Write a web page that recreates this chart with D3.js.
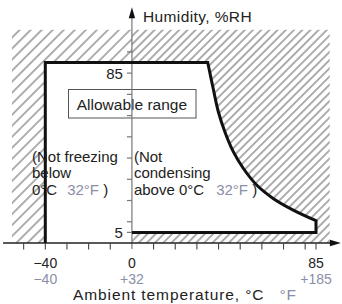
<!DOCTYPE html>
<html>
<head>
<meta charset="utf-8">
<script src="https://cdn.jsdelivr.net/npm/d3@7"></script>
<style>
  body { margin: 0; background: #fff; }
  svg { display: block; font-family: "Liberation Sans", Arial, Helvetica, sans-serif; }
</style>
</head>
<body>
<div id="chart"></div>
<script>
// temperature (°C) / humidity (%RH) values
const tempTicks = [-50, -40, -30, -20, -10, 0, 10, 20, 30, 40, 50, 60, 70, 80, 85];
const tempLabelsC = [-40, 0, 85];
const tempLabelsF = ["\u221240", "+32", "+185"];
const humTicks = [5, 10, 20, 30, 40, 50, 60, 70, 80, 90];
const humLabelValues = [5, 80];
const humLabelTexts = ["5", "85"];

const minTemp = -40;
const maxTemp = 85;
const upperHum = 85;
const lowerHum = 5;

// condensation limit curve
const curveTemp = [35, 37.5, 39.9, 42.9, 46.8, 51.4, 57.6, 65.2, 74.5, 85];
const curveHum = [85, 72.9, 61.8, 52.4, 43.0, 35.2, 27.3, 21.0, 15.5, 10.5];

// extents of the hatched area and of the axes
const hatchTemp = [-55.5, 91.4];
const hatchHumTop = 100.5;
const axisTemp = [-59.5, 96.5];
const axisHumTop = 111;

const width = 342, height = 304;
const grey = "#8a8ea6";
const ink = "#222";

const x = d3.scaleLinear().domain([-40, 85]).range([45.3, 316]);
const y = d3.scaleLinear().domain([0, 85]).range([243, 62.5]);

const svg = d3.select("#chart").append("svg")
    .attr("width", width)
    .attr("height", height);

const defs = svg.append("defs");

// two hatch densities (left of the humidity axis is sparser)
function hatchPattern(id, step) {
    const p = defs.append("pattern")
        .attr("id", id)
        .attr("patternUnits", "userSpaceOnUse")
        .attr("width", step)
        .attr("height", step)
        .attr("patternTransform", "rotate(45)");
    p.append("line")
        .attr("x1", step / 2).attr("y1", -1)
        .attr("x2", step / 2).attr("y2", step + 1)
        .attr("stroke", "#333")
        .attr("stroke-width", 0.8);
}
hatchPattern("hatchSparse", 7.8);
hatchPattern("hatchDense", 5.8);

// allowable region outline
const curvePts = curveTemp.map((t, i) => [x(t), y(curveHum[i])]);
const curveFwd = d3.line().curve(d3.curveCatmullRom.alpha(0.5))(curvePts);

const boundary = "M" + x(minTemp) + "," + y(0)
    + "L" + x(minTemp) + "," + y(upperHum)
    + "L" + curveFwd.slice(1)
    + "L" + x(maxTemp) + "," + y(lowerHum)
    + "L" + x(0) + "," + y(lowerHum);

const region = boundary + "L" + x(0) + "," + y(0) + "Z";

const outer = "M" + x(hatchTemp[0]) + "," + y(hatchHumTop)
    + "H" + x(hatchTemp[1])
    + "V" + y(0)
    + "H" + x(hatchTemp[0]) + "Z";

defs.append("clipPath").attr("id", "hatchClip")
    .append("path")
    .attr("d", outer + region)
    .attr("clip-rule", "evenodd");

const hatch = svg.append("g").attr("clip-path", "url(#hatchClip)");
hatch.append("rect")
    .attr("x", x(hatchTemp[0])).attr("y", y(hatchHumTop))
    .attr("width", x(0) - x(hatchTemp[0]))
    .attr("height", y(0) - y(hatchHumTop))
    .attr("fill", "url(#hatchSparse)");
hatch.append("rect")
    .attr("x", x(0)).attr("y", y(hatchHumTop))
    .attr("width", x(hatchTemp[1]) - x(0))
    .attr("height", y(0) - y(hatchHumTop))
    .attr("fill", "url(#hatchDense)");

// label box
svg.append("rect")
    .attr("x", 68.5).attr("y", 89.5)
    .attr("width", 127.5).attr("height", 28.5)
    .attr("fill", "#fff")
    .attr("stroke", "#555")
    .attr("stroke-width", 1);

svg.append("text")
    .attr("x", x(0)).attr("y", 110)
    .attr("text-anchor", "middle")
    .attr("font-size", 15.5)
    .attr("fill", ink)
    .text("Allowable range");

// humidity axis
const yAxisX = x(0);
svg.append("line")
    .attr("x1", yAxisX).attr("x2", yAxisX)
    .attr("y1", y(0) + 6).attr("y2", y(axisHumTop) + 8)
    .attr("stroke", "#777").attr("stroke-width", 1.2);
svg.append("path")
    .attr("d", "M" + yAxisX + "," + y(axisHumTop)
        + "L" + (yAxisX + 3.2) + "," + (y(axisHumTop) + 11)
        + "L" + (yAxisX - 3.2) + "," + (y(axisHumTop) + 11) + "Z")
    .attr("fill", "#111");

svg.selectAll("line.ytick")
    .data(humTicks)
    .enter().append("line")
    .attr("class", "ytick")
    .attr("x1", yAxisX - 5).attr("x2", yAxisX)
    .attr("y1", d => y(d)).attr("y2", d => y(d))
    .attr("stroke", "#777").attr("stroke-width", 1.2);

svg.selectAll("text.ylab")
    .data(humLabelValues)
    .enter().append("text")
    .attr("class", "ylab")
    .attr("x", yAxisX - 9)
    .attr("y", d => y(d) + 5.5)
    .attr("text-anchor", "end")
    .attr("font-size", 15)
    .attr("fill", ink)
    .text((d, i) => humLabelTexts[i]);

svg.append("text")
    .attr("x", yAxisX + 11).attr("y", 22)
    .attr("font-size", 15.5)
    .attr("letter-spacing", 0.4)
    .attr("fill", ink)
    .text("Humidity, %RH");

// temperature axis
svg.append("line")
    .attr("x1", x(axisTemp[0])).attr("x2", x(axisTemp[1]) - 8)
    .attr("y1", y(0)).attr("y2", y(0))
    .attr("stroke", ink).attr("stroke-width", 1.3);
svg.append("path")
    .attr("d", "M" + x(axisTemp[1]) + "," + y(0)
        + "L" + (x(axisTemp[1]) - 11) + "," + (y(0) - 3.2)
        + "L" + (x(axisTemp[1]) - 11) + "," + (y(0) + 3.2) + "Z")
    .attr("fill", "#111");

svg.selectAll("line.xtick")
    .data(tempTicks.filter(d => d !== 0))
    .enter().append("line")
    .attr("class", "xtick")
    .attr("x1", d => x(d)).attr("x2", d => x(d))
    .attr("y1", y(0)).attr("y2", y(0) + 6.5)
    .attr("stroke", "#444").attr("stroke-width", 1.1);

svg.selectAll("text.xlabC")
    .data(tempLabelsC)
    .enter().append("text")
    .attr("class", "xlabC")
    .attr("x", d => x(d))
    .attr("y", 267.5)
    .attr("text-anchor", "middle")
    .attr("font-size", 14)
    .attr("fill", ink)
    .text(d => d < 0 ? "\u2212" + Math.abs(d) : d);

svg.selectAll("text.xlabF")
    .data(tempLabelsC)
    .enter().append("text")
    .attr("class", "xlabF")
    .attr("x", d => x(d))
    .attr("y", 283.5)
    .attr("text-anchor", "middle")
    .attr("font-size", 14)
    .attr("fill", grey)
    .text((d, i) => tempLabelsF[i]);

const xTitle = svg.append("text")
    .attr("x", 73).attr("y", 300)
    .attr("font-size", 15.5)
    .attr("letter-spacing", 0.9)
    .attr("fill", ink);
xTitle.append("tspan").text("Ambient temperature, \u00b0C");
xTitle.append("tspan").attr("dx", 15).attr("fill", grey).text("\u00b0F");

// boundary of the allowable range
svg.append("path")
    .attr("d", boundary)
    .attr("fill", "none")
    .attr("stroke", "#111")
    .attr("stroke-width", 3)
    .attr("stroke-linejoin", "miter");

// notes
function note(x0, lines) {
    const t = svg.append("text")
        .attr("font-size", 15)
        .attr("fill", ink);
    lines.forEach((ln, i) => {
        const row = t.append("tspan").attr("x", x0).attr("y", 161.5 + i * 16.7);
        ln.forEach(part => {
            row.append("tspan")
                .attr("dx", part.dx || 0)
                .attr("fill", part.grey ? grey : ink)
                .text(part.s);
        });
    });
}
note(32, [
    [{ s: "(Not freezing" }],
    [{ s: "below" }],
    [{ s: "0\u00b0C" }, { s: "32\u00b0F", grey: true, dx: 10 }, { s: " )" }]
]);
note(x(0) + 2, [
    [{ s: "(Not" }],
    [{ s: "condensing" }],
    [{ s: "above 0\u00b0C" }, { s: "32\u00b0F", grey: true, dx: 12 }, { s: " )" }]
]);
</script>
</body>
</html>
